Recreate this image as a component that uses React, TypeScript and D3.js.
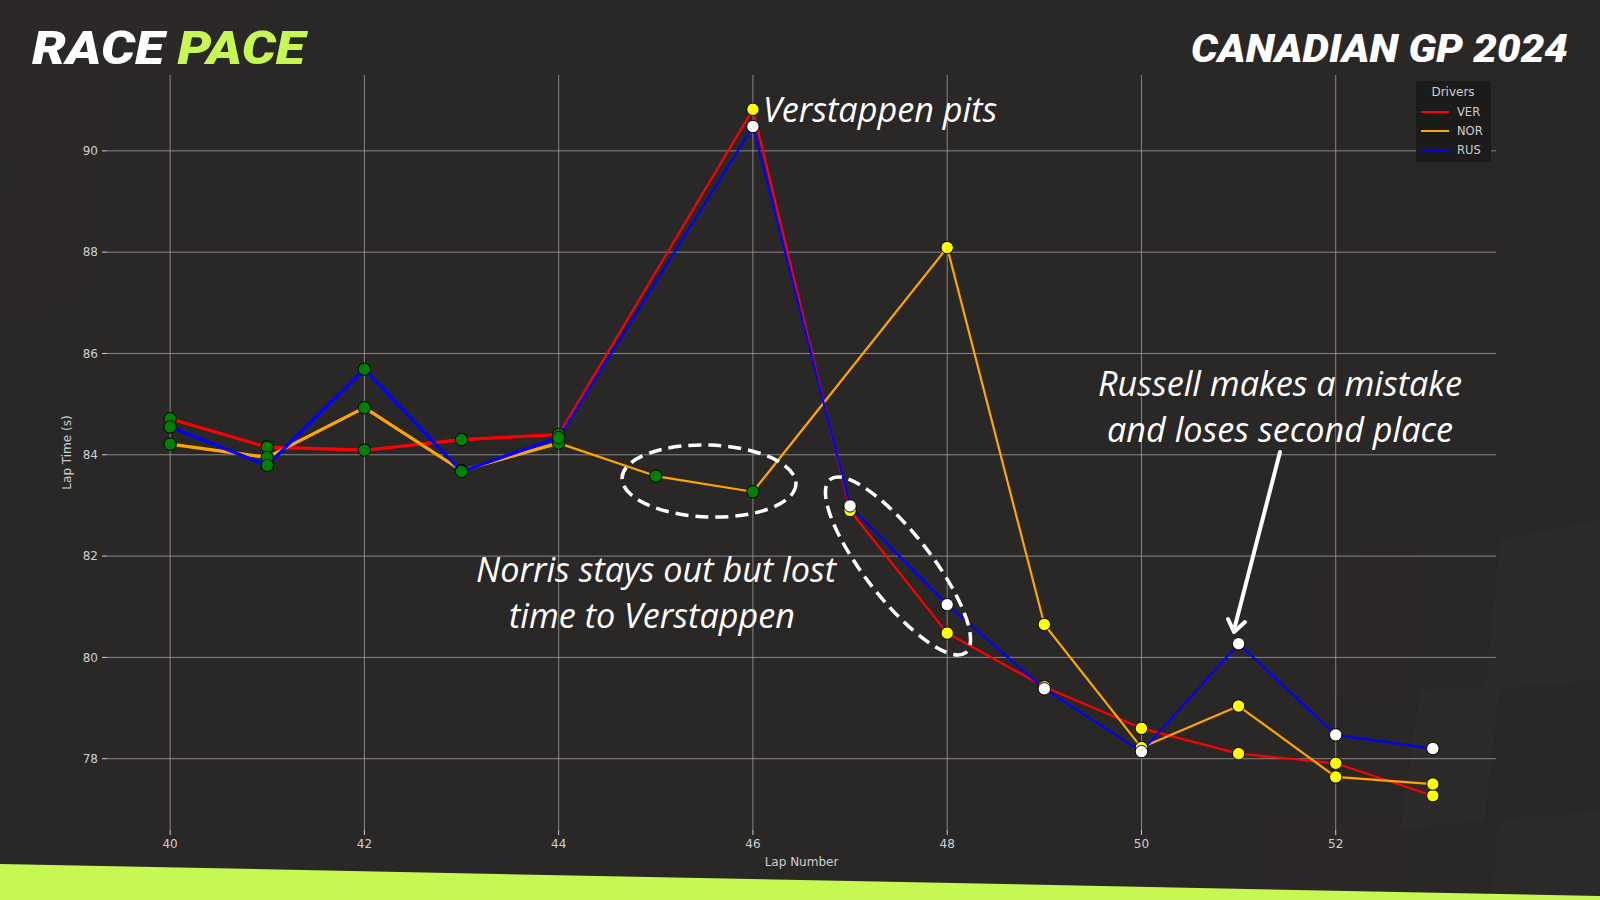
import React from "react";
import * as d3 from "d3";

const laps = [40, 41, 42, 43, 44, 45, 46, 47, 48, 49, 50, 51, 52, 53];
const verTimes = [84.71, 84.15, 84.09, 84.3, 84.4, null, 90.82, 82.9, 80.48, 79.42, 78.6, 78.1, 77.91, 77.27];
const norTimes = [84.21, 83.95, 84.93, 83.69, 84.23, 83.58, 83.27, null, 88.09, 80.65, 78.22, 79.04, 77.64, 77.5];
const rusTimes = [84.55, 83.79, 85.69, 83.67, 84.34, null, 90.48, 82.99, 81.04, 79.38, 78.14, 80.27, 78.47, 78.2];
const verTyres = ["I", "I", "I", "I", "I", "", "M", "M", "M", "M", "M", "M", "M", "M"];
const norTyres = ["I", "I", "I", "I", "I", "I", "I", "", "M", "M", "M", "M", "M", "M"];
const rusTyres = ["I", "I", "I", "I", "I", "", "H", "H", "H", "H", "H", "H", "H", "H"];
const drivers = ["VER", "NOR", "RUS"];
const driverColors = ["#ff0000", "#ffa500", "#0000ff"];
const tyreColors: Record<string, string> = { I: "#008000", M: "#ffff00", H: "#ffffff" };
const xTicks = [40, 42, 44, 46, 48, 50, 52];
const yTicks = [78, 80, 82, 84, 86, 88, 90];

const W = 1600;
const H = 900;
const plot = { left: 107, right: 1496, top: 75, bottom: 830 };

export default function App() {
  const series = [verTimes, norTimes, rusTimes];
  const tyres = [verTyres, norTyres, rusTyres];
  const all = series.flat().filter((v) => v != null) as number[];
  const [ymin, ymax] = d3.extent(all) as [number, number];
  const ypad = (ymax - ymin) * 0.05;
  const xpad = (53 - 40) * 0.05;
  const x = d3.scaleLinear().domain([40 - xpad, 53 + xpad]).range([plot.left, plot.right]);
  const y = d3.scaleLinear().domain([ymin - ypad, ymax + ypad]).range([plot.bottom, plot.top]);

  const pts = series.map((s) =>
    laps.map((l, i) => ({ lap: l, t: s[i] })).filter((d) => d.t != null) as { lap: number; t: number }[]
  );
  const line = d3.line<{ lap: number; t: number }>().x((d) => x(d.lap)).y((d) => y(d.t));

  const grid = "#a8a6a6";
  const tickCol = "#cfcfcf";

  return (
    <svg width={W} height={H} style={{ position: "absolute", left: 0, top: 0, display: "block" }}>
      <rect x={0} y={0} width={W} height={H} fill="#2a2727" />
      {/* subtle checkered background */}
      <g fill="#2d2a2a">
        <polygon points="0,0 120,0 100,140 0,150" opacity={0.7} />
        <polygon points="20,150 100,140 80,300 0,310" opacity={0.5} />
        <polygon points="130,0 260,0 245,70 115,75" opacity={0.5} />
        <polygon points="1330,560 1420,555 1405,690 1310,700" opacity={0.7} />
        <polygon points="1500,540 1600,520 1600,680 1485,690" />
        <polygon points="1420,690 1500,685 1485,820 1400,830" />
        <polygon points="1270,830 1400,820 1390,900 1260,900" opacity={0.7} />
        <polygon points="1500,820 1600,810 1600,900 1490,900" opacity={0.8} />
      </g>
      {/* lime band */}
      <polygon points={`0,864 ${W},896 ${W},${H} 0,${H}`} fill="#c6f752" />

      {/* titles */}
      <text x={32} y={64} fontFamily="Roboto, 'Open Sans', sans-serif" fontWeight={900} fontStyle="italic" fontSize={46} textLength={273} lengthAdjust="spacingAndGlyphs">
        <tspan fill="#ffffff">RACE </tspan>
        <tspan fill="#c6f752">PACE</tspan>
      </text>
      <text x={1191} y={62} fontFamily="Roboto, 'Open Sans', sans-serif" fontWeight={900} fontStyle="italic" fontSize={39} fill="#ffffff" textLength={377} lengthAdjust="spacingAndGlyphs">
        CANADIAN GP 2024
      </text>

      {/* grid */}
      <g>
        {xTicks.map((t) => (
          <g key={"x" + t}>
            <line x1={x(t)} x2={x(t)} y1={plot.top} y2={plot.bottom} stroke={grid} strokeOpacity={0.75} strokeWidth={1} />
            <line x1={x(t)} x2={x(t)} y1={plot.bottom} y2={plot.bottom + 5} stroke={tickCol} strokeWidth={1} />
            <text x={x(t)} y={plot.bottom + 18} textAnchor="middle" fontFamily="DejaVu Sans, sans-serif" fontSize={12} fill={tickCol}>
              {t}
            </text>
          </g>
        ))}
        {yTicks.map((t) => (
          <g key={"y" + t}>
            <line x1={plot.left} x2={plot.right} y1={y(t)} y2={y(t)} stroke={grid} strokeOpacity={0.75} strokeWidth={1} />
            <line x1={plot.left - 5} x2={plot.left} y1={y(t)} y2={y(t)} stroke={tickCol} strokeWidth={1} />
            <text x={plot.left - 9} y={y(t)} dy="0.35em" textAnchor="end" fontFamily="DejaVu Sans, sans-serif" fontSize={12} fill={tickCol}>
              {t}
            </text>
          </g>
        ))}
        <text x={(plot.left + plot.right) / 2} y={866} textAnchor="middle" fontFamily="DejaVu Sans, sans-serif" fontSize={12} fill={tickCol}>
          Lap Number
        </text>
        <text
          transform={`translate(71,${(plot.top + plot.bottom) / 2}) rotate(-90)`}
          textAnchor="middle"
          fontFamily="DejaVu Sans, sans-serif"
          fontSize={12}
          fill={tickCol}
        >
          Lap Time (s)
        </text>
      </g>

      {/* lines */}
      {pts.map((p, k) => {
        const early = p.filter((d) => d.lap <= 44);
        return (
          <g key={"l" + k}>
            <path d={line(p) || ""} fill="none" stroke={driverColors[k]} strokeWidth={2.2} strokeLinejoin="round" />
            <path d={line(early) || ""} fill="none" stroke={driverColors[k]} strokeWidth={3.2} strokeLinejoin="round" />
          </g>
        );
      })}
      {/* markers */}
      {series.map((s, k) => (
        <g key={"m" + k}>
          {laps.map((l, i) =>
            s[i] == null ? null : (
              <circle key={i} cx={x(l)} cy={y(s[i] as number)} r={6.2} fill={tyreColors[tyres[k][i]]} stroke="#000" strokeWidth={1} />
            )
          )}
        </g>
      ))}

      {/* annotations */}
      <g fontFamily="'Open Sans', sans-serif" fontStyle="italic" fontSize={34.2} fill="#ffffff">
        <text x={763} y={122}>Verstappen pits</text>
        <text x={656} y={582} textAnchor="middle">Norris stays out but lost</text>
        <text x={652} y={628} textAnchor="middle">time to Verstappen</text>
        <text x={1280} y={396} textAnchor="middle">Russell makes a mistake</text>
        <text x={1280} y={442} textAnchor="middle">and loses second place</text>
      </g>
      <g fill="none" stroke="#ffffff" strokeWidth={3.5} strokeDasharray="13 7">
        <ellipse cx={709} cy={481} rx={87} ry={36} transform="rotate(2 709 481)" />
        <ellipse cx={898} cy={566} rx={110} ry={33} transform="rotate(52 898 566)" />
      </g>
      <g stroke="#ffffff" strokeWidth={4} fill="none" strokeLinecap="round" strokeLinejoin="round">
        <line x1={1280} y1={452} x2={1234} y2={630} />
        <polyline points="1228,619 1234,632 1245,622" />
      </g>

      {/* legend */}
      <g>
        <rect x={1416} y={81} width={75} height={81} fill="#1c1b1b" rx={2} />
        <text x={1453} y={96} textAnchor="middle" fontFamily="DejaVu Sans, sans-serif" fontSize={12} fill={tickCol}>
          Drivers
        </text>
        {drivers.map((d, i) => (
          <g key={d}>
            <line x1={1421} x2={1449} y1={112 + i * 19} y2={112 + i * 19} stroke={driverColors[i]} strokeWidth={2} />
            <text x={1457} y={112 + i * 19} dy="0.35em" fontFamily="DejaVu Sans, sans-serif" fontSize={11.5} fill={tickCol}>
              {d}
            </text>
          </g>
        ))}
      </g>
    </svg>
  );
}
